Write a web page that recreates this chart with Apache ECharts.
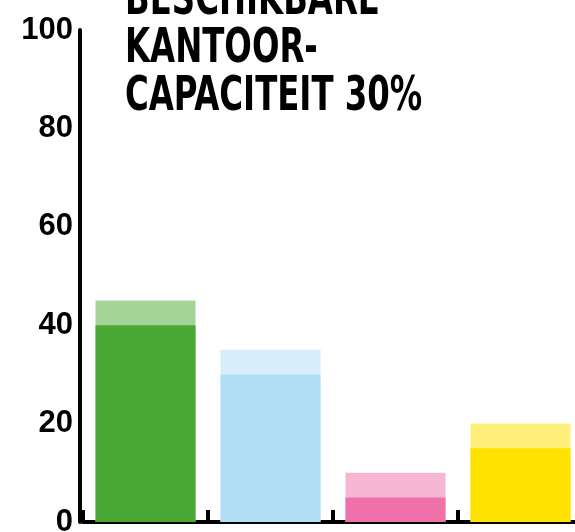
<!DOCTYPE html>
<html>
<head>
<meta charset="utf-8">
<script src="https://cdn.jsdelivr.net/npm/echarts@6/dist/echarts.min.js"></script>
<style>
  html, body { margin: 0; padding: 0; background: #ffffff; }
  #chart { width: 575px; height: 532px; }
</style>
</head>
<body>
<div id="chart"></div>
<script>
// ---- data ----
var categories = ['A', 'B', 'C', 'D'];
var baseValues = [40, 30, 5, 15];      // darker (lower) part of each bar
var totalValues = [45, 35, 10, 20];    // top of the lighter part of each bar
var darkColors = ['#4aa834', '#b1ddf6', '#ee72a9', '#ffe200'];
var lightColors = ['#a4d498', '#d6eefa', '#f5b6d3', '#fff07c'];
var yTicks = [0, 20, 40, 60, 80, 100];
var titleLines = ['BESCHIKBARE', 'KANTOOR-', 'CAPACITEIT 30%'];

var TITLE_FONT = '"DejaVu Sans Condensed", "DejaVu Sans", sans-serif';
var LABEL_FONT = '"Liberation Sans", Arial, sans-serif';

var chart = echarts.init(document.getElementById('chart'), null, { renderer: 'canvas' });

chart.setOption({
  backgroundColor: '#ffffff',
  animation: false,
  grid: { left: 83, top: 30, width: 500, bottom: 10, containLabel: false, outerBoundsMode: 'none' },
  xAxis: {
    type: 'category',
    data: categories,
    boundaryGap: true,
    axisLine: { show: true, lineStyle: { color: '#000', width: 4 } },
    axisTick: { show: true, inside: true, length: 12, lineStyle: { color: '#000', width: 4 } },
    axisLabel: { show: false },
    splitLine: { show: false }
  },
  yAxis: {
    type: 'value',
    min: yTicks[0],
    max: yTicks[yTicks.length - 1],
    interval: yTicks[1] - yTicks[0],
    offset: 3,
    axisLine: { show: true, lineStyle: { color: '#000', width: 4 } },
    axisTick: { show: false },
    splitLine: { show: false },
    axisLabel: {
      color: '#000',
      fontFamily: LABEL_FONT,
      fontWeight: 'bold',
      fontSize: 31,
      margin: 7,
      verticalAlign: 'middle',
      padding: [0, 0, 8, 0]
    }
  },
  graphic: [{
    type: 'text',
    x: 125,
    y: -22,
    scaleX: 0.75,
    style: {
      text: titleLines.join('\n'),
      fill: '#000',
      font: 'bold 48px ' + TITLE_FONT,
      lineHeight: 48,
      verticalAlign: 'top',
      align: 'left'
    }
  }],
  series: [
    {
      name: 'light',
      type: 'bar',
      data: totalValues,
      barWidth: 100,
      barGap: '-100%',
      itemStyle: { color: function (p) { return lightColors[p.dataIndex]; } },
      silent: true,
      z: 1
    },
    {
      name: 'dark',
      type: 'bar',
      data: baseValues,
      barWidth: 100,
      barGap: '-100%',
      itemStyle: { color: function (p) { return darkColors[p.dataIndex]; } },
      silent: true,
      z: 2
    }
  ]
});
</script>
</body>
</html>
